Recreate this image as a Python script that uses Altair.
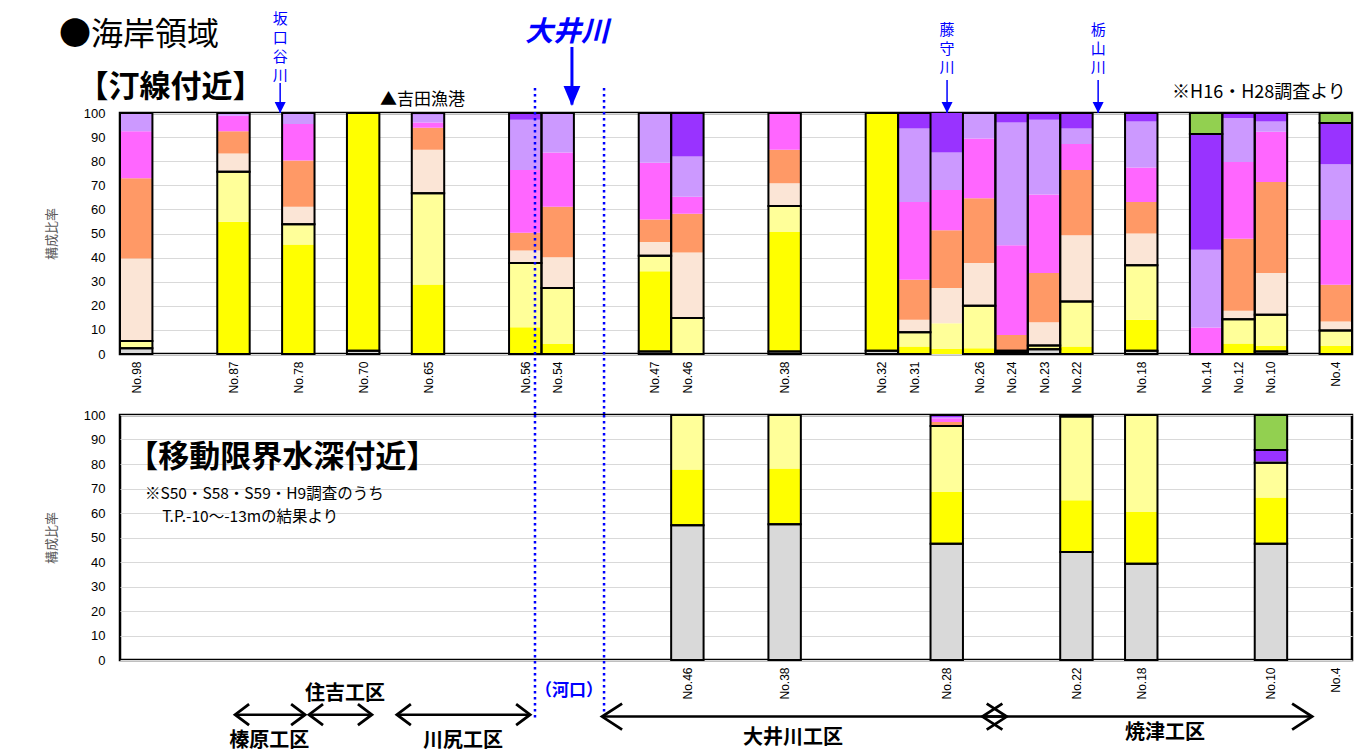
import altair as alt
import pandas as pd

JP = "Noto Sans CJK JP"
NUM = "Liberation Sans"
BLUE = "#0000ff"

# ---------------- data ----------------
class_names = ["シルト・粘土", "細砂", "中砂", "粗砂", "細礫", "中礫", "粗礫", "大礫", "玉石"]
class_colors = ["#d9d9d9", "#ffff00", "#ffff99", "#fbe5d6", "#ff9966", "#ff66ff", "#cc99ff", "#9933ff", "#92d050"]
class_group = [0, 1, 1, 2, 2, 2, 2, 2, 3]
n_slots = 38

# 汀線付近
top_names = ["No.98", "No.87", "No.78", "No.70", "No.65", "No.56", "No.54", "No.47", "No.46", "No.38", "No.32",
             "No.31", "No.28", "No.26", "No.24", "No.23", "No.22", "No.18", "No.14", "No.12", "No.10", "No.4"]
top_slots = [0, 3, 5, 7, 9, 12, 13, 16, 17, 20, 23, 24, 25, 26, 27, 28, 29, 31, 33, 34, 35, 37]
top_label_shown = [True] * 12 + [False] + [True] * 9
top_outlined = [True] * 12 + [False] + [True] * 9
top_gray = [2.4, 0, 0, 1.3, 0, 0, 0, 1.0, 0, 1.0, 1.4, 0, 0, 0, 0.6, 2.0, 0, 1.4, 0, 0, 1.0, 0]
top_fine = [0.6, 54.9, 45.4, 98.7, 28.8, 11.1, 4.2, 33.3, 0, 49.6, 98.6, 3.1, 2.1, 2.4, 0, 0.7, 3.1, 12.8, 0, 4.4, 2.3, 3.3]
top_medium = [2.4, 20.7, 8.4, 0, 37.9, 26.7, 23.2, 6.5, 14.9, 10.8, 0, 5.9, 10.7, 17.6, 0.8, 0.8, 18.7, 22.6, 0, 10.0, 13.0, 6.4]
top_coarse = [34.2, 7.6, 7.3, 0, 18.0, 5.1, 12.7, 5.7, 27.2, 9.4, 0, 5.2, 14.6, 17.8, 0, 9.7, 27.5, 13.2, 0, 3.5, 17.3, 3.8]
top_granule = [33.3, 9.2, 19.2, 0, 9.2, 7.4, 21.0, 9.3, 16.1, 13.9, 0, 16.6, 24.0, 26.8, 6.5, 20.4, 27.0, 13.1, 0, 29.9, 37.8, 15.2]
top_pebble = [19.5, 6.5, 15.1, 0, 2.2, 26.0, 22.5, 23.6, 7.1, 15.3, 0, 32.3, 16.7, 24.8, 37.2, 32.6, 10.8, 14.3, 11.0, 31.9, 20.8, 26.9]
top_gravel = [7.6, 1.1, 4.6, 0, 3.4, 20.9, 16.4, 20.6, 16.6, 0, 0, 30.5, 15.5, 10.6, 51.0, 31.0, 6.5, 19.1, 32.3, 18.2, 4.3, 23.1]
top_cgravel = [0, 0, 0, 0, 0.5, 2.8, 0, 0, 18.1, 0, 0, 6.4, 16.4, 0, 3.9, 2.8, 6.4, 3.5, 48.0, 2.1, 3.5, 17.1]
top_cobble = [0, 0, 0, 0, 0, 0, 0, 0, 0, 0, 0, 0, 0, 0, 0, 0, 0, 0, 8.7, 0, 0, 4.2]

# 移動限界水深付近
bot_names = ["No.46", "No.38", "No.28", "No.22", "No.18", "No.10", "No.4"]
bot_slots = [17, 20, 25, 29, 31, 35, 37]
bot_label_shown = [True] * 7
bot_outlined = [True] * 7
bot_gray = [55.0, 55.4, 47.5, 44.1, 39.3, 47.5, 0]
bot_fine = [22.8, 22.8, 21.1, 21.1, 21.1, 18.8, 0]
bot_medium = [22.2, 21.8, 26.9, 34.2, 39.6, 14.2, 0]
bot_coarse = [0, 0, 0.4, 0, 0, 0, 0]
bot_granule = [0, 0, 1.2, 0, 0, 0, 0]
bot_pebble = [0, 0, 1.6, 0, 0, 0, 0]
bot_gravel = [0, 0, 0.4, 0, 0, 0.7, 0]
bot_cgravel = [0, 0, 0.9, 0.6, 0, 4.5, 0]
bot_cobble = [0, 0, 0, 0, 0, 14.3, 0]

top_series = [top_gray, top_fine, top_medium, top_coarse, top_granule, top_pebble, top_gravel, top_cgravel, top_cobble]
bot_series = [bot_gray, bot_fine, bot_medium, bot_coarse, bot_granule, bot_pebble, bot_gravel, bot_cgravel, bot_cobble]

# ---------------- annotations (data units: slot, 構成比率) ----------------
top_note_text = ["●海岸領域", "▲吉田漁港", "※H16・H28調査より"]
top_note_x = [-1.88, 8.02, 32.45]
top_note_y = [132.5, 105.4, 108.3]
top_note_fs = [32, 17, 18]
top_head_text = ["【汀線付近】"]
top_head_x = [-1.31]
top_head_y = [110.4]

river_text = ["坂\n口\n谷\n川", "藤\n守\n川", "栃\n山\n川"]
river_x = [4.94, 25.51, 30.17]
river_top = [142.0, 137.3, 137.3]
river_from = [112.4, 113.7, 113.7]
river_to = [100.0, 100.0, 100.0]

oi_text = ["大井川"]
oi_x = [13.79]
oi_y = [133.2]
oi_arrow_x = [13.94]
oi_arrow_from = [127.4]
oi_arrow_to = [103.5]
oi_arrow_tip = [102.9]

divider_x = [12.80, 14.93]
divider_top_from = [110.4, 110.4]
divider_top_to = [-25.3, -25.3]
divider_bot_from = [100.0, 100.0]
divider_bot_to = [-23.9, -23.1]

bot_head_text = ["【移動限界水深付近】"]
bot_head_x = [0.22]
bot_head_y = [82.4]
bot_note_text = ["※S50・S58・S59・H9調査のうち", "T.P.-10～-13mの結果より"]
bot_note_x = [0.77, 1.30]
bot_note_y = [67.7, 58.3]

kakou_text = ["（河口）"]
kakou_x = [13.85]
kakou_y = [-12.5]

koku_text = ["住吉工区", "榛原工区", "川尻工区", "大井川工区", "焼津工区"]
koku_x = [6.94, 4.60, 10.58, 20.76, 32.23]
koku_y = [-13.7, -32.9, -32.9, -31.7, -29.7]

small_arrow_x0 = [3.55, 5.83, 8.54]
small_arrow_x1 = [5.71, 7.77, 12.65]
small_arrow_y = [-22.3, -22.3, -22.3]
big_arrow_x0 = [14.87, 26.60]
big_arrow_x1 = [27.35, 36.77]
big_arrow_y = [-23.1, -23.1]

# ---------------- helpers ----------------
xs = alt.Scale(domain=[0, n_slots], nice=False, zero=False)
ys = alt.Scale(domain=[0, 100], nice=False, zero=False)
cs = alt.Scale(domain=class_names, range=class_colors)


def build(slots, series, outlined):
    seg, grp = [], []
    for i, s in enumerate(slots):
        base = 0.0
        for k in range(len(class_names)):
            v = series[k][i]
            if v > 0:
                seg.append(dict(x0=s, x1=s + 1, cls=class_names[k], y0=base, y1=base + v))
            base += v
        base = 0.0
        for g in range(4):
            gv = sum(series[k][i] for k in range(len(class_names)) if class_group[k] == g)
            if gv > 0 and outlined[i]:
                grp.append(dict(x0=s, x1=s + 1, y0=base, y1=base + gv))
            base += gv
    return pd.DataFrame(seg), pd.DataFrame(grp)


def x_axis(slots, names, shown):
    arr = [""] * n_slots
    vals = []
    for s, n, sh in zip(slots, names, shown):
        if sh:
            arr[s] = n
            vals.append(s + 0.5)
    expr = "[" + ",".join("'" + a + "'" for a in arr) + "][floor(datum.value)]"
    return alt.Axis(values=vals, labelExpr=expr, labelAngle=-90, ticks=False, domain=False, grid=False,
                    title=None, labelFontSize=12, labelPadding=7, labelFont=NUM, labelColor="black",
                    labelFlush=False, labelOverlap=False)


y_axis = alt.Axis(values=list(range(0, 101, 10)), grid=True, gridColor="#d9d9d9", gridWidth=1, ticks=False,
                  domain=False, labelFontSize=13, labelPadding=15, labelFont=NUM, labelColor="black",
                  title="構成比率", titleFontSize=13, titleColor="#595959", titleFontWeight="normal",
                  titleFont=JP, titlePadding=25)


class Panel:
    def __init__(self, xa):
        self.xa = xa
        self.layers = []

    def X(self, f):
        return alt.X(f, scale=xs, axis=self.xa)

    def Y(self, f):
        return alt.Y(f, scale=ys, axis=y_axis)

    def bars(self, slots, series, outlined):
        seg_df, grp_df = build(slots, series, outlined)
        self.layers.append(alt.Chart(seg_df).mark_rect().encode(
            x=self.X("x0:Q"), x2="x1:Q", y=self.Y("y0:Q"), y2="y1:Q",
            color=alt.Color("cls:N", scale=cs, legend=None)))
        self.layers.append(alt.Chart(grp_df).mark_rect(fillOpacity=0, stroke="black", strokeWidth=2).encode(
            x=self.X("x0:Q"), x2="x1:Q", y=self.Y("y0:Q"), y2="y1:Q"))

    def text(self, texts, xv, yv, fs, align="left", bold=False, color="black", italic=False,
             baseline="middle", line_break=False, line_height=None):
        df = pd.DataFrame({"t": texts, "x": xv, "y": yv})
        kw = dict(align=align, baseline=baseline, font=JP, fontSize=fs, color=color,
                  fontWeight="bold" if bold else "normal")
        if italic:
            kw["fontStyle"] = "italic"
        if line_break:
            kw["lineBreak"] = "\n"
            kw["lineHeight"] = line_height
        self.layers.append(alt.Chart(df).mark_text(**kw).encode(
            x=self.X("x:Q"), y=self.Y("y:Q"), text="t:N"))

    def vrule(self, xv, y0, y1, color, width, dash=None):
        df = pd.DataFrame({"x": xv, "y0": y0, "y1": y1})
        kw = dict(color=color, strokeWidth=width)
        if dash:
            kw["strokeDash"] = dash
        self.layers.append(alt.Chart(df).mark_rule(**kw).encode(
            x=self.X("x:Q"), y=self.Y("y0:Q"), y2="y1:Q"))

    def head(self, xv, yv, shape, size, color, filled, width=2.5):
        df = pd.DataFrame({"x": xv, "y": yv})
        kw = dict(shape=shape, size=size, opacity=1, filled=filled)
        if filled:
            kw["fill"] = color
            kw["strokeWidth"] = 0
        else:
            kw["stroke"] = color
            kw["strokeWidth"] = width
        self.layers.append(alt.Chart(df).mark_point(**kw).encode(x=self.X("x:Q"), y=self.Y("y:Q")))

    def double_arrow(self, x0, x1, yv, size, ratio):
        df = pd.DataFrame({"x0": x0, "x1": x1, "y": yv})
        self.layers.append(alt.Chart(df).mark_rule(color="black", strokeWidth=2.5).encode(
            x=self.X("x0:Q"), x2="x1:Q", y=self.Y("y:Q")))
        self.head(x1, yv, f"M -1 -{ratio} L 0 0 L -1 {ratio}", size, "black", False, 2.8)
        self.head(x0, yv, f"M 1 -{ratio} L 0 0 L 1 {ratio}", size, "black", False, 2.8)


# ---------------- top panel ----------------
tp = Panel(x_axis(top_slots, top_names, top_label_shown))
tp.bars(top_slots, top_series, top_outlined)
tp.vrule(divider_x, divider_top_from, divider_top_to, BLUE, 2.5, [2.5, 3.5])
for i in range(len(top_note_text)):
    tp.text(top_note_text[i:i + 1], top_note_x[i:i + 1], top_note_y[i:i + 1], top_note_fs[i])
tp.text(top_head_text, top_head_x, top_head_y, 31, bold=True)
tp.text(river_text, river_x, river_top, 15, align="center", color=BLUE, baseline="top",
        line_break=True, line_height=19)
tp.vrule(river_x, river_from, river_to, BLUE, 1.5)
tp.head(river_x, river_to, "M -0.5 -1 L 0.5 -1 L 0 0 Z", 484, BLUE, True)
tp.text(oi_text, oi_x, oi_y, 28, align="center", bold=True, italic=True, color=BLUE)
tp.vrule(oi_arrow_x, oi_arrow_from, oi_arrow_to, BLUE, 3)
tp.head(oi_arrow_x, oi_arrow_tip, "M -0.42 -1 L 0.42 -1 L 0 0 Z", 1600, BLUE, True)
top = alt.layer(*tp.layers).properties(width=1232, height=241)

# ---------------- bottom panel ----------------
bp = Panel(x_axis(bot_slots, bot_names, bot_label_shown))
bp.bars(bot_slots, bot_series, bot_outlined)
bp.vrule(divider_x, divider_bot_from, divider_bot_to, BLUE, 2.5, [2.5, 3.5])
bp.text(bot_head_text, bot_head_x, bot_head_y, 31, bold=True)
bp.text(bot_note_text, bot_note_x, bot_note_y, 15.5)
bp.text(kakou_text, kakou_x, kakou_y, 17, align="center", bold=True, color=BLUE)
bp.text(koku_text, koku_x, koku_y, 20, align="center", bold=True)
bp.double_arrow(small_arrow_x0, small_arrow_x1, small_arrow_y, 784, 0.75)
bp.double_arrow(big_arrow_x0, big_arrow_x1, big_arrow_y, 1600, 0.65)
bottom = alt.layer(*bp.layers).properties(width=1232, height=245)

chart = alt.vconcat(top, bottom, spacing=61, bounds="flush").properties(
    padding={"left": 36, "top": 2, "right": 5, "bottom": 5}
).configure(background="white").configure_view(stroke="black", strokeWidth=2.5)

chart.save("out.html", embed_options={"renderer": "svg", "actions": False})
